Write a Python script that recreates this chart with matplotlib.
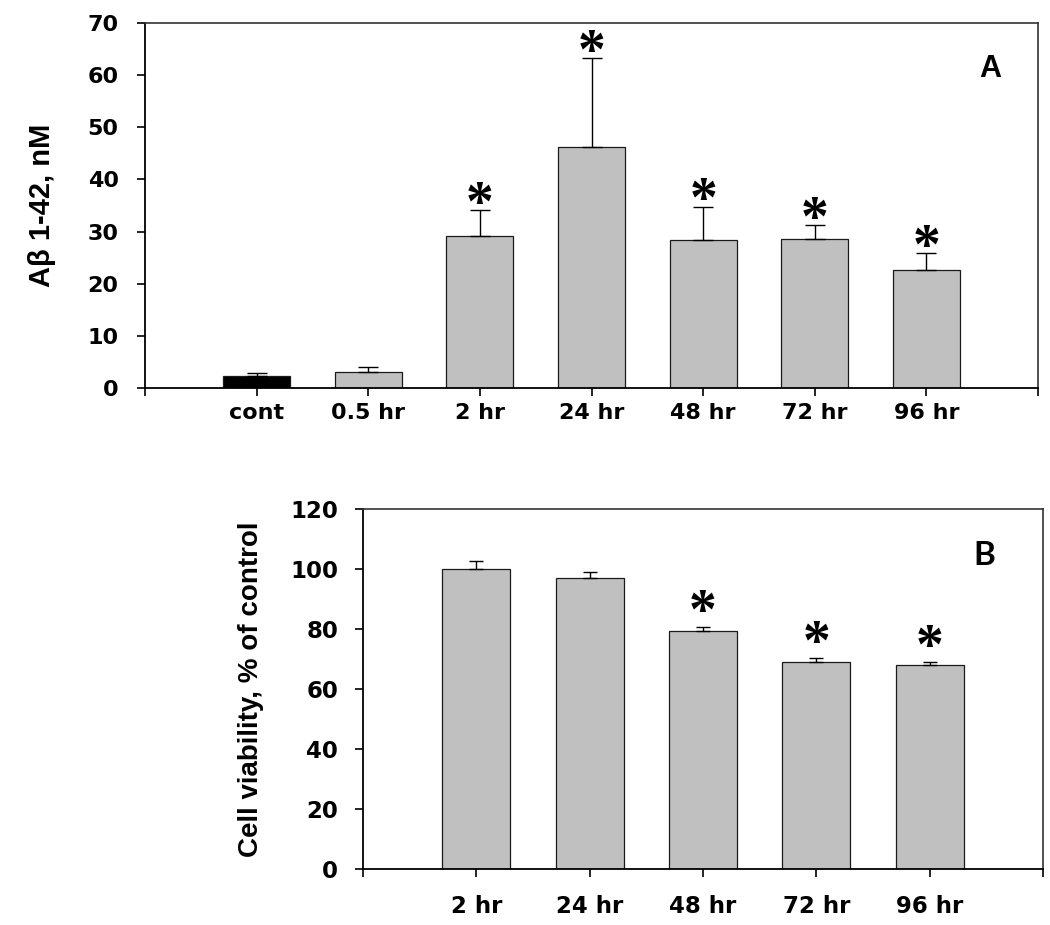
import numpy as np
import matplotlib
matplotlib.use("Agg")
import matplotlib.pyplot as plt

# panel A: Abeta 1-42 concentration
labels_a = ['cont', '0.5 hr', '2 hr', '24 hr', '48 hr', '72 hr', '96 hr']
abeta = [2.3, 3.0, 29.1, 46.2, 28.4, 28.5, 22.6]
abeta_err = [0.5, 1.1, 5.0, 17.1, 6.4, 2.7, 3.2]
sig_a = [False, False, True, True, True, True, True]

# panel B: cell viability
labels_b = ['2 hr', '24 hr', '48 hr', '72 hr', '96 hr']
viab = [100.1, 96.9, 79.4, 68.9, 67.9]
viab_err = [2.6, 2.2, 1.4, 1.5, 1.2]
sig_b = [False, False, True, True, True]

W, H = 1050, 925
fig = plt.figure(figsize=(W / 100, H / 100), dpi=100)


def px_axes(l, t, r, b):
    return fig.add_axes([l / W, 1 - b / H, (r - l) / W, (b - t) / H])


def draw_panel(ax, labels, vals, errs, sig, colors, ymax, ystep,
               tick_size, ypad, xpad, capsize, star_off):
    x = np.arange(len(labels))
    ax.bar(x, vals, width=0.6, color=colors, edgecolor='#1a1a1a',
           linewidth=0.9, zorder=2)
    ax.errorbar(x, vals, yerr=[np.zeros(len(vals)), errs], fmt='none',
                ecolor='black', elinewidth=1.0, capsize=capsize,
                capthick=1.0, zorder=3)
    for xi, v, e, s in zip(x, vals, errs, sig):
        if s:
            ax.annotate('*', (xi, v + e), xytext=(0, star_off),
                        textcoords='offset points', ha='center',
                        va='center', fontsize=40, family='Liberation Serif',
                        fontweight='bold')
    ax.set_xlim(-1, len(labels))
    ax.set_ylim(0, ymax)
    ax.set_yticks(np.arange(0, ymax + 1, ystep))
    ax.set_xticks(np.arange(-1, len(labels) + 1))
    ax.set_xticklabels([''] + labels + [''])
    ax.tick_params(axis='both', direction='out', length=6, width=1.2,
                   labelsize=tick_size)
    ax.tick_params(axis='y', pad=ypad)
    ax.tick_params(axis='x', pad=xpad)
    for lab in ax.get_xticklabels() + ax.get_yticklabels():
        lab.set_fontweight('bold')
        lab.set_family('DejaVu Sans')
    for side in ['left', 'bottom']:
        ax.spines[side].set_linewidth(1.3)
        ax.spines[side].set_color('black')
    for side in ['top', 'right']:
        ax.spines[side].set_linewidth(1.2)
        ax.spines[side].set_color('#333333')


ax_a = px_axes(145, 23, 1038, 388)
colors_a = ['black'] + ['#c0c0c0'] * (len(labels_a) - 1)
draw_panel(ax_a, labels_a, abeta, abeta_err, sig_a, colors_a, 70, 10,
           16, 13, 5, 7, 3)
ax_a.set_ylabel('A\u03b2 1-42, nM', fontsize=21, family='Liberation Sans',
                fontweight='bold')
ax_a.yaxis.set_label_coords(-0.0997, 0.5)
ax_a.text(0.946, 0.874, 'A', transform=ax_a.transAxes, ha='center',
          va='center', fontsize=22, family='Liberation Sans',
          fontweight='bold')

ax_b = px_axes(363, 509, 1043, 869)
colors_b = ['#c0c0c0'] * len(labels_b)
draw_panel(ax_b, labels_b, viab, viab_err, sig_b, colors_b, 120, 20,
           16.5, 12, 13, 5, 9)
ax_b.set_ylabel('Cell viability, % of control', fontsize=20,
                family='Liberation Sans', fontweight='bold')
ax_b.yaxis.set_label_coords(-0.1456, 0.5)
ax_b.text(0.913, 0.872, 'B', transform=ax_b.transAxes, ha='center',
          va='center', fontsize=24, family='Lato', fontweight='bold')

fig.savefig('out.png', dpi=100)
